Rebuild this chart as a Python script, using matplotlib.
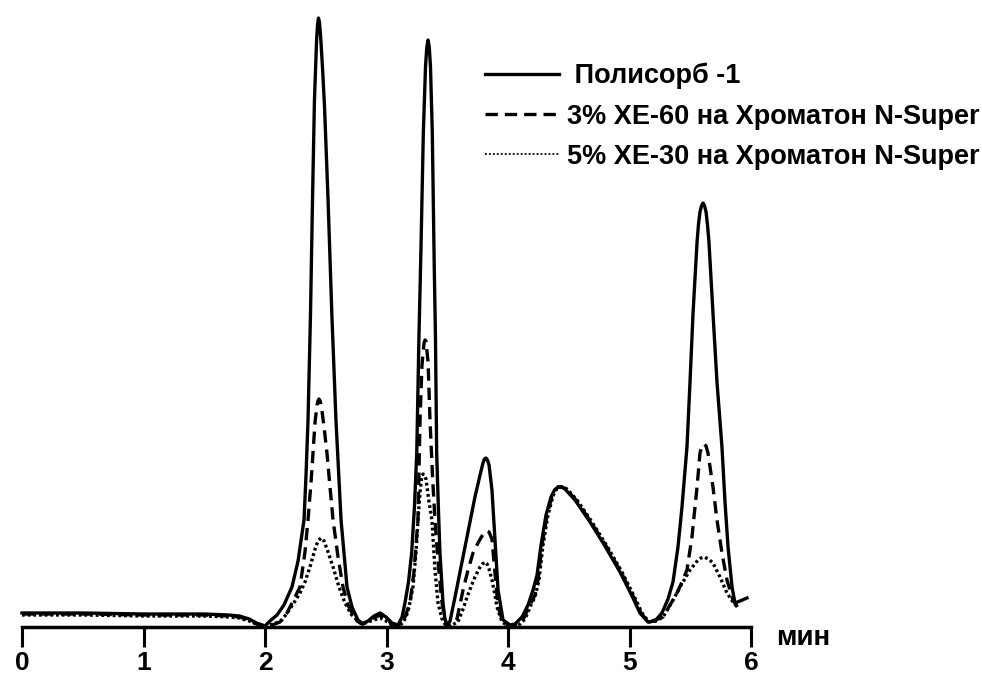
import matplotlib
matplotlib.use("Agg")
import matplotlib.pyplot as plt
from matplotlib.lines import Line2D

plt.rcParams['font.family'] = ['Liberation Sans', 'DejaVu Sans']
plt.rcParams['font.weight'] = 'bold'

# time, min  /  detector signal, rel. units
t_polisorb = [0.00, 0.50, 1.00, 1.50, 1.70, 1.79, 1.87, 1.93, 2.00,
              2.041, 2.099, 2.156, 2.222, 2.272, 2.321, 2.337, 2.354, 2.374, 2.391,
              2.407, 2.424, 2.432, 2.440, 2.448, 2.457, 2.473, 2.490, 2.519, 2.551,
              2.584, 2.626, 2.675, 2.716, 2.765, 2.807,
              2.848, 2.897, 2.947, 2.996, 3.045, 3.095,
              3.128, 3.152, 3.181, 3.207, 3.230, 3.249, 3.267, 3.284, 3.303, 3.321,
              3.331, 3.342, 3.352, 3.362, 3.377, 3.393, 3.403, 3.413, 3.428, 3.440,
              3.465, 3.481, 3.498,
              3.523, 3.564, 3.605, 3.646, 3.687, 3.728, 3.770, 3.794, 3.806, 3.819,
              3.831, 3.844, 3.868, 3.893, 3.918, 3.959, 4.016,
              4.058, 4.115, 4.165, 4.206, 4.239, 4.272, 4.313, 4.354, 4.383, 4.412,
              4.440, 4.469, 4.551, 4.675, 4.798, 4.922, 5.021, 5.086, 5.152,
              5.210, 5.267, 5.317, 5.358, 5.399, 5.432, 5.473, 5.498, 5.523, 5.556,
              5.568, 5.580, 5.592, 5.605, 5.618, 5.630, 5.642, 5.654, 5.687, 5.720,
              5.761, 5.786, 5.811, 5.844, 5.868, 5.909, 5.967]
s_polisorb = [14, 14, 13, 13, 12, 11, 8, 4, 1,
              6, 12, 22, 40, 66, 107, 150, 207, 310, 427,
              527, 585, 602, 609, 605, 592, 560, 520, 427, 310,
              207, 107, 40, 20, 7, 3,
              6, 11, 14, 10, 4, 2,
              10, 24, 45, 74, 120, 174, 290, 380, 494, 560,
              579, 587, 580, 560, 494, 360, 290, 174, 115, 74,
              24, 8, 0,
              6, 30, 55, 80, 105, 130, 152, 164, 168, 169,
              167, 162, 137, 87, 37, 7, 2,
              3, 10, 22, 37, 52, 82, 112, 130, 137, 140,
              140, 138, 127, 105, 81, 55, 31, 14, 5,
              6, 14, 28, 45, 80, 120, 180, 245, 314, 385,
              403, 415, 421, 424, 421, 415, 402, 385, 314, 245,
              180, 125, 80, 40, 24, 26, 29]

t_xe60 = [0.00, 0.50, 1.00, 1.50, 1.70, 1.79, 1.87, 1.93, 2.00,
          2.058, 2.123, 2.181, 2.239, 2.288, 2.329, 2.354, 2.379, 2.395, 2.412,
          2.428, 2.436, 2.444, 2.454, 2.465, 2.486, 2.510, 2.535, 2.560, 2.601,
          2.642, 2.683, 2.716, 2.757, 2.798,
          2.897, 2.947, 2.996, 3.045, 3.095,
          3.119, 3.152, 3.193, 3.226, 3.259, 3.276, 3.292, 3.309, 3.317, 3.325,
          3.342, 3.358, 3.379, 3.399, 3.428, 3.457, 3.481, 3.506,
          3.523, 3.580, 3.630, 3.671, 3.712, 3.753, 3.786, 3.803, 3.819, 3.844,
          3.868, 3.893, 3.918, 3.959, 4.016,
          4.058, 4.123, 4.181, 4.222, 4.247, 4.280, 4.321, 4.362, 4.387, 4.412,
          4.444, 4.477, 4.560, 4.683, 4.807, 4.930, 5.029, 5.095, 5.152,
          5.210, 5.276, 5.333, 5.391, 5.432, 5.473, 5.514, 5.556, 5.580, 5.597,
          5.613, 5.630, 5.646, 5.687, 5.720, 5.761, 5.802, 5.852, 5.893]
s_xe60 = [13, 13, 12, 12, 11, 10, 7, 3, 1,
          2, 5, 14, 28, 40, 75, 107, 145, 174, 205,
          222, 226, 228, 226, 220, 200, 174, 140, 107, 70,
          40, 22, 14, 6, 3,
          9, 12, 8, 3, 2,
          3, 10, 24, 55, 107, 207, 262, 284, 287, 286,
          265, 207, 150, 107, 60, 24, 8, 0,
          2, 8, 37, 57, 74, 84, 91, 94, 96, 95,
          88, 54, 20, 5, 0,
          1, 7, 22, 32, 47, 82, 112, 131, 137, 140,
          140, 138, 127, 105, 81, 55, 31, 14, 5,
          7, 10, 22, 34, 45, 57, 90, 140, 174, 181,
          183, 181, 174, 140, 107, 74, 47, 27, 19]

t_xe30 = [0.00, 0.50, 1.00, 1.50, 1.70, 1.79, 1.87, 1.93, 2.00,
          2.074, 2.140, 2.206, 2.288, 2.329, 2.370, 2.412, 2.436, 2.461, 2.486,
          2.519, 2.560, 2.609, 2.658, 2.708, 2.757, 2.798,
          2.897, 2.947, 2.996, 3.045, 3.095,
          3.136, 3.177, 3.218, 3.243, 3.259, 3.276, 3.288, 3.300, 3.312, 3.325,
          3.350, 3.374, 3.399, 3.424, 3.457, 3.490,
          3.523, 3.588, 3.630, 3.663, 3.695, 3.728, 3.770, 3.790, 3.811, 3.828,
          3.844, 3.868, 3.893, 3.909, 3.951, 4.016,
          4.082, 4.140, 4.189, 4.222, 4.255, 4.288, 4.329, 4.370, 4.395, 4.420,
          4.452, 4.486, 4.568, 4.691, 4.815, 4.938, 5.037, 5.103, 5.160,
          5.218, 5.276, 5.350, 5.416, 5.498, 5.564, 5.588, 5.613, 5.650, 5.687,
          5.745, 5.802, 5.852, 5.893]
s_xe30 = [12, 12, 11, 11, 10, 9, 6, 3, 1,
          3, 7, 18, 34, 45, 60, 78, 86, 89, 86,
          75, 60, 40, 24, 13, 7, 3,
          7, 9, 6, 2, 1,
          4, 15, 40, 75, 107, 135, 148, 153, 152, 148,
          125, 107, 57, 24, 8, 1,
          1, 5, 18, 30, 40, 50, 60, 63, 65, 63,
          58, 47, 32, 20, 5, 0,
          1, 8, 22, 30, 47, 82, 112, 131, 137, 140,
          140, 138, 127, 105, 81, 55, 31, 14, 5,
          6, 10, 25, 40, 57, 67, 69, 70, 68, 64,
          50, 34, 25, 19]

labels = [' Полисорб -1',
          '3% XE-60 на Хроматон N-Super',
          '5% XE-30 на Хроматон N-Super']

fig = plt.figure(figsize=(9.82, 6.78), dpi=100)
ax = fig.add_axes([22 / 982, 51 / 678, 729 / 982, 617 / 678])

lw = 2.4
ax.plot(t_polisorb, s_polisorb, color='black', lw=lw, ls='-',
        solid_joinstyle='round', clip_on=False)
ax.plot(t_xe60, s_xe60, color='black', lw=lw, ls=(0, (3.7, 2.1)),
        dash_joinstyle='round', clip_on=False)
ax.plot(t_xe30, s_xe30, color='black', lw=lw, ls=(0, (0.85, 0.85)),
        clip_on=False)

ax.set_xlim(0, 6)
ax.set_ylim(0, 617)
ax.set_xticks(range(7))
ax.set_yticks([])
for side in ('top', 'right', 'left'):
    ax.spines[side].set_visible(False)
ax.spines['bottom'].set_linewidth(2.5)
ax.tick_params(axis='x', direction='out', length=14.5, width=2.2, pad=2.5,
               labelsize=19)
for lab in ax.get_xticklabels():
    lab.set_fontweight('bold')

ax.text(6.43, -11, 'мин', fontsize=20, fontweight='bold',
        ha='center', va='center', clip_on=False)

handles = [Line2D([], [], color='black', lw=lw, ls='-'),
           Line2D([], [], color='black', lw=lw, ls=(0, (3.7, 2.1))),
           Line2D([], [], color='black', lw=1.3, ls=(0, (1, 1.2)))]
leg = ax.legend(handles, labels, loc='upper left',
                bbox_to_anchor=(485 / 982, 1 - 63 / 678),
                bbox_transform=fig.transFigure, frameon=False,
                prop={'size': 19.5, 'weight': 'bold'},
                handlelength=2.75, handletextpad=0.27, labelspacing=0.52,
                borderpad=0, borderaxespad=0)

fig.savefig('out.png', dpi=100)
